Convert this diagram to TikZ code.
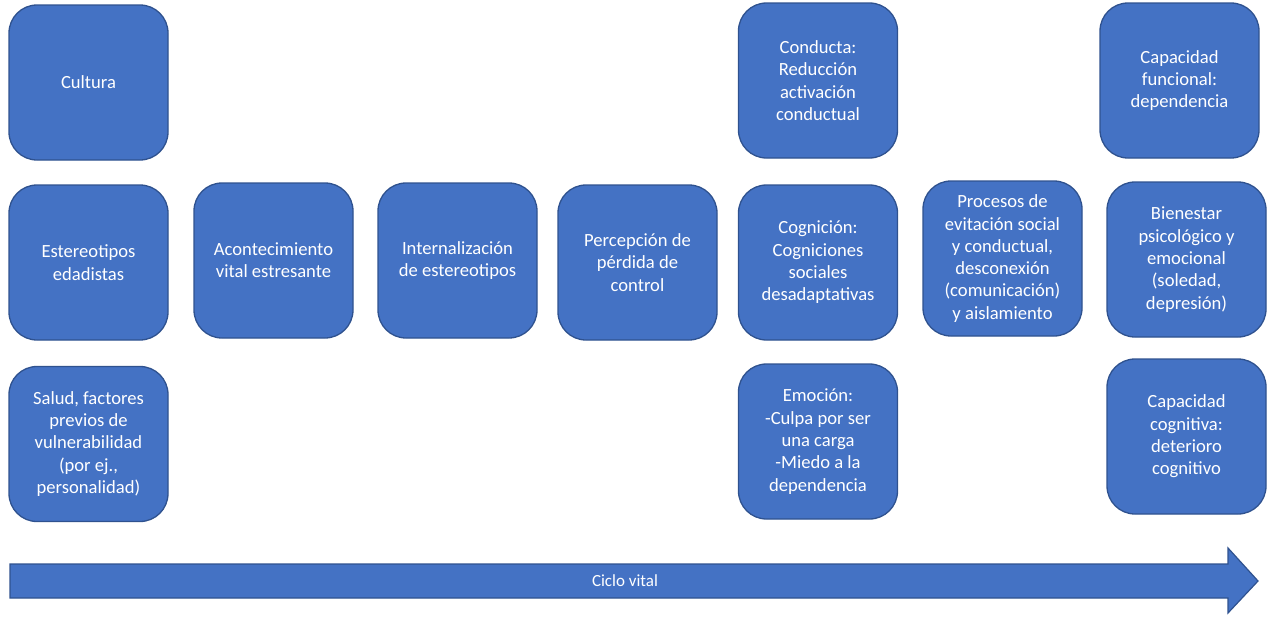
\documentclass[tikz,border=0pt]{standalone}
\usepackage{fontspec}
\setmainfont{Carlito}
\begin{document}
\begin{tikzpicture}[x=1pt,y=-1pt,
  box/.style={draw=boxedge, fill=boxfill, line width=1.3pt, rounded corners=28pt,
    minimum width=159pt, minimum height=155pt, inner sep=4pt, align=center,
    text=white, font=\fontsize{18.6}{22.3}\selectfont},
  lifearrow/.style={draw=boxedge, fill=boxfill, line width=1.2pt, line join=miter}]
\definecolor{boxfill}{HTML}{4472C4}
\definecolor{boxedge}{HTML}{2F528F}
\useasboundingbox (0,0) rectangle (1268,616);

% first column: antecedents
\node[box] (cultura) at (88.5,82.5) {Cultura};
\node[box] (estereo) at (88.5,262.5) {Estereotipos\\edadistas};
\node[box] (salud) at (88.5,444) {Salud, factores\\previos de\\vulnerabilidad\\(por ej.,\\personalidad)};

% central sequence
\node[box] (aconte) at (273.5,260.5) {Acontecimiento\\vital estresante};
\node[box] (intern) at (457.5,260.5) {Internalización\\de estereotipos};
\node[box] (percep) at (637.5,262.5) {Percepción de\\pérdida de\\control};

% responses
\node[box] (conducta) at (818,80.5) {Conducta:\\Reducción\\activación\\conductual};
\node[box] (cognicion) at (818,262.5) {Cognición:\\Cogniciones\\sociales\\desadaptativas};
\node[box] (emocion) at (818,441.5) {Emoción:\\-Culpa por ser\\una carga\\-Miedo a la\\dependencia};

\node[box] (procesos) at (1002.5,258.5) {Procesos de\\evitación social\\y conductual,\\desconexión\\(comunicación)\\y aislamiento};

% outcomes
\node[box] (funcional) at (1179.5,80.5) {Capacidad\\funcional:\\dependencia};
\node[box] (bienestar) at (1186.5,259.5) {Bienestar\\psicológico y\\emocional\\(soledad,\\depresión)};
\node[box] (cognitiva) at (1186.5,436.5) {Capacidad\\cognitiva:\\deterioro\\cognitivo};

% life-cycle arrow
\coordinate (tail) at (10,581);
\coordinate (tip) at (1258,581);
\draw[lifearrow] (10,564) -- (1228,564) -- (1228,548) -- (tip) -- (1228,613)
  -- (1228,598) -- (10,598) -- cycle;
\node[text=white, font=\fontsize{17}{20}\selectfont] (ciclo) at (625,581) {Ciclo vital};
\end{tikzpicture}
\end{document}
